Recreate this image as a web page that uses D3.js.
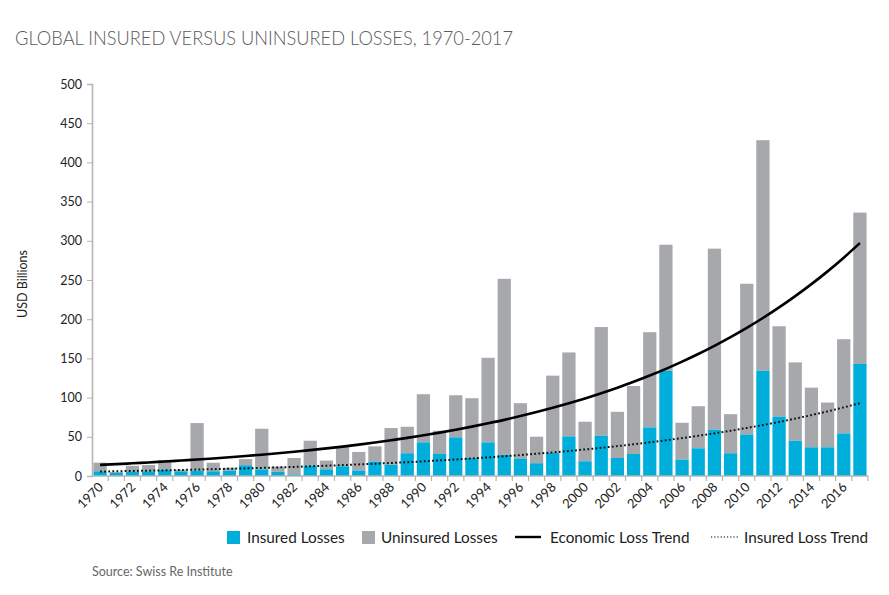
<!DOCTYPE html>
<html>
<head>
<meta charset="utf-8">
<script src="https://cdn.jsdelivr.net/npm/d3@7/dist/d3.min.js"></script>
<style>
  html, body { margin: 0; padding: 0; background: #fff; }
  svg { display: block; font-family: Lato, "Open Sans", sans-serif; }
</style>
</head>
<body>
<svg id="chart" width="889" height="595"></svg>
<script>
const years = d3.range(1970, 2018);
const insured = [6, 4, 5.5, 6, 7.9, 6, 6.8, 6, 6.8, 13.7,
  8.5, 5.3, 2, 13.3, 8.5, 12.4, 7, 18.4, 14.2, 29,
  42.9, 28.1, 49.3, 23, 42.9, 26.9, 22.2, 16.3, 29.4, 50.5,
  18.8, 51.4, 23, 28.1, 62, 134.3, 20.9, 35.3, 59, 29,
  53, 134.3, 75.5, 45, 36.6, 36.6, 54.3, 143];
const uninsured = [11, 1, 7.5, 8, 12.6, 2, 60.7, 10.9, 3.8, 7.9,
  51.8, 6.7, 21, 31.7, 11.2, 24.6, 23.7, 19.4, 47, 33.8,
  61.4, 29.6, 53.7, 76.2, 107.9, 224.6, 70.7, 33.8, 98.6, 107.1,
  50.4, 138.6, 58.9, 86.7, 121.4, 160.7, 47, 53.7, 231, 49.9,
  192.2, 294, 115.5, 99.9, 76.1, 57.1, 120.2, 193];
const economicTrend = [14.2, 15.1, 16.2, 17.3, 18.4, 19.7, 21.0, 22.4, 23.9, 25.5,
  27.2, 29.0, 30.9, 33.0, 35.2, 37.5, 40.0, 42.7, 45.6, 48.6,
  51.9, 55.3, 59.0, 63.0, 67.2, 71.6, 76.4, 81.5, 87.0, 92.8,
  99.0, 105.6, 112.6, 120.2, 128.2, 136.7, 145.9, 155.6, 166.0, 177.1,
  188.9, 201.5, 215.0, 229.4, 244.7, 261.0, 278.5, 297.1];
const insuredTrend = [5.7, 6.05, 6.4, 6.8, 7.2, 7.7, 8.2, 8.7, 9.2, 9.7,
  10.3, 11.0, 11.6, 12.4, 13.1, 13.9, 14.8, 15.7, 16.6, 17.6,
  18.7, 19.9, 21.1, 22.4, 23.7, 25.2, 26.7, 28.4, 30.1, 31.9,
  33.9, 35.9, 38.1, 40.5, 42.9, 45.6, 48.3, 51.3, 54.4, 57.7,
  61.3, 65.0, 69.0, 73.2, 77.7, 82.4, 87.5, 92.8];
const yTicks = [0, 50, 100, 150, 200, 250, 300, 350, 400, 450, 500];
const xLabelYears = years.filter(y => y % 2 === 0);
const legendLabels = ["Insured Losses", "Uninsured Losses", "Economic Loss Trend", "Insured Loss Trend"];
const titleText = "GLOBAL INSURED VERSUS UNINSURED LOSSES, 1970-2017";
const yAxisTitle = "USD Billions";
const sourceText = "Source: Swiss Re Institute";

const BLUE = "#00aedb", GREY = "#a7a8ac", AXIS = "#b5b5b5";
const svg = d3.select("#chart");

const x = d3.scaleBand().domain(years).range([92, 868]).paddingInner(0.18).paddingOuter(0.09);
const y = d3.scaleLinear().domain([0, 500]).range([476, 84]);

// title
svg.append("text").attr("x", 15).attr("y", 45)
  .attr("textLength", 498).attr("lengthAdjust", "spacingAndGlyphs")
  .style("font-size", "19.5px").style("font-weight", 300).attr("fill", "#5a5a5c")
  .text(titleText);

// bars
const rows = years.map((yr, i) => ({ yr, ins: insured[i], unins: uninsured[i] }));
const g = svg.append("g");
g.selectAll("rect.un").data(rows).join("rect").attr("class", "un")
  .attr("x", d => x(d.yr)).attr("width", x.bandwidth())
  .attr("y", d => y(d.ins + d.unins)).attr("height", d => y(d.ins) - y(d.ins + d.unins))
  .attr("fill", GREY);
g.selectAll("rect.ins").data(rows).join("rect").attr("class", "ins")
  .attr("x", d => x(d.yr)).attr("width", x.bandwidth())
  .attr("y", d => y(d.ins)).attr("height", d => y(0) - y(d.ins))
  .attr("fill", BLUE);

// y axis
const yAxis = d3.axisLeft(y).tickValues(yTicks).tickSize(5).tickPadding(5);
const ya = svg.append("g").attr("transform", "translate(92,0)").call(yAxis);
ya.select(".domain").attr("stroke", AXIS).attr("stroke-width", 1.6);
ya.selectAll(".tick line").attr("stroke", AXIS);
ya.selectAll(".tick text").style("font-size", "12.5px").style("font-family", "Lato, sans-serif").attr("fill", "#222");

// x axis baseline with ticks at band boundaries
const step = x.step(), halfGap = step * x.paddingInner() / 2;
svg.append("line").attr("x1", 92).attr("x2", 868).attr("y1", y(0)).attr("y2", y(0))
  .attr("stroke", AXIS).attr("stroke-width", 1.4);
const bounds = years.map(yr => x(yr) - halfGap).concat([x(2017) + x.bandwidth() + halfGap]);
svg.selectAll("line.xt").data(bounds.slice(1)).join("line").attr("class", "xt")
  .attr("x1", d => d).attr("x2", d => d).attr("y1", y(0)).attr("y2", y(0) + 5)
  .attr("stroke", AXIS).attr("stroke-width", 1.2);
svg.selectAll("text.xl").data(xLabelYears).join("text").attr("class", "xl")
  .attr("transform", d => `translate(${x(d) + x.bandwidth() / 2 + 4},${y(0) + 12}) rotate(-45)`)
  .attr("text-anchor", "end").style("font-size", "13px").attr("fill", "#222")
  .text(d => d);

// y axis title
svg.append("text").attr("transform", "translate(27,284) rotate(-90)")
  .attr("text-anchor", "middle").style("font-size", "12.5px").attr("fill", "#222")
  .text(yAxisTitle);

// trend lines
const line = d3.line().x((d, i) => x(years[i]) + x.bandwidth() / 2).y(d => y(d)).curve(d3.curveMonotoneX);
svg.append("path").datum(insuredTrend).attr("d", line).attr("fill", "none")
  .attr("stroke", "#111").attr("stroke-width", 2).attr("stroke-dasharray", "1.8,2.3");
svg.append("path").datum(economicTrend).attr("d", line).attr("fill", "none")
  .attr("stroke", "#000").attr("stroke-width", 2.6);

// legend
const lg = svg.append("g").style("font-size", "15.3px").attr("fill", "#222");
const ly = 537;
lg.append("rect").attr("x", 227).attr("y", ly - 6).attr("width", 13).attr("height", 13).attr("fill", BLUE);
lg.append("text").attr("x", 247).attr("y", ly + 5.5).text(legendLabels[0]);
lg.append("rect").attr("x", 362).attr("y", ly - 6).attr("width", 13).attr("height", 13).attr("fill", GREY);
lg.append("text").attr("x", 381).attr("y", ly + 5.5).text(legendLabels[1]);
lg.append("line").attr("x1", 515).attr("x2", 541).attr("y1", ly).attr("y2", ly).attr("stroke", "#000").attr("stroke-width", 2.4);
lg.append("text").attr("x", 550).attr("y", ly + 5.5).text(legendLabels[2]);
lg.append("line").attr("x1", 711).attr("x2", 738).attr("y1", ly).attr("y2", ly).attr("stroke", "#000").attr("stroke-width", 1.2).attr("stroke-dasharray", "1.2,2");
lg.append("text").attr("x", 744).attr("y", ly + 5.5).text(legendLabels[3]);

// source
svg.append("text").attr("x", 92).attr("y", 576).style("font-size", "12.5px").attr("fill", "#666")
  .text(sourceText);
</script>
</body>
</html>
